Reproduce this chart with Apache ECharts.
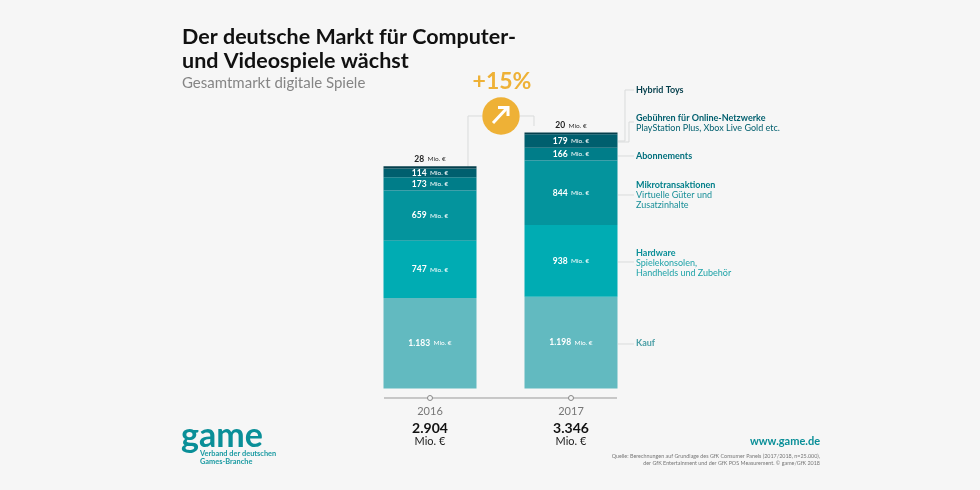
<!DOCTYPE html>
<html lang="de">
<head>
<meta charset="utf-8">
<title>Der deutsche Markt</title>
<script src="https://cdn.jsdelivr.net/npm/echarts@6/dist/echarts.min.js"></script>
<style>
  html, body { margin: 0; padding: 0; background: #f6f6f6; }
  #main { width: 980px; height: 490px; }
</style>
</head>
<body>
<div id="main"></div>
<script>
var years = ['2016', '2017'];
var kauf = [1183, 1198];
var hardware = [747, 938];
var mikro = [659, 844];
var abo = [173, 166];
var gebuehren = [114, 179];
var hybrid = [28, 20];
var totals = ['2.904', '3.346'];

var FONT = 'Lato';
var chart = echarts.init(document.getElementById('main'));

function stack(name, values, color) {
    return {
        name: name,
        type: 'bar',
        stack: 'markt',
        barWidth: 93,
        data: values,
        itemStyle: { color: color },
        label: {
            show: true,
            position: 'inside',
            formatter: function (p) { return '{v|' + p.value.toLocaleString('de-DE') + '} {u|Mio. €}'; },
            rich: {
                v: { fontFamily: FONT, fontSize: 8.5, fontWeight: 'bold', color: '#fff' },
                u: { fontFamily: FONT, fontSize: 6.5, color: '#fff' }
            }
        }
    };
}

// kleine Texte rechts und unten
function txt(x, y, text, size, color, weight, align) {
    return {
        type: 'text', x: x, y: y,
        style: {
            text: text, fill: color, align: align || 'left', verticalAlign: 'middle',
            font: (weight || 'normal') + ' ' + size + 'px ' + FONT
        }
    };
}
function conn(points, color, width) {
    return {
        type: 'polyline', shape: { points: points },
        style: { stroke: color || '#d9dbdb', lineWidth: width || 1, fill: null }
    };
}

var hybridSeries = stack('Hybrid Toys', hybrid, '#053f4c');
hybridSeries.label = {
    show: true, position: 'top', distance: 1,
    formatter: function (p) { return '{v|' + p.value + '} {u|Mio. €}'; },
    rich: {
        v: { fontFamily: FONT, fontSize: 8.5, fontWeight: 'bold', color: '#222' },
        u: { fontFamily: FONT, fontSize: 6.5, color: '#333' }
    }
};

var option = {
    backgroundColor: '#f6f6f6',
    animation: false,
    grid: { left: 359.5, width: 282, top: 120.75, height: 267.75 },
    xAxis: {
        type: 'category', data: years,
        axisLine: { show: false }, axisTick: { show: false }, axisLabel: { show: false }
    },
    yAxis: { type: 'value', min: 0, max: 3500, show: false },
    series: [
        stack('Kauf', kauf, '#62bac0'),
        stack('Hardware', hardware, '#00acb3'),
        stack('Mikrotransaktionen', mikro, '#04949d'),
        stack('Abonnements', abo, '#007d89'),
        stack('Gebühren', gebuehren, '#005f6e'),
        hybridSeries
    ],
    graphic: [
        txt(182, 37, 'Der deutsche Markt für Computer-', 21.5, '#111', 'bold'),
        txt(182, 61, 'und Videospiele wächst', 21.5, '#111', 'bold'),
        txt(182, 83, 'Gesamtmarkt digitale Spiele', 15, '#858585'),
        conn([[468, 167], [468, 116], [482, 116]]),
        conn([[520, 116], [534, 116], [534, 126]]),
        txt(502, 82, '+15%', 23, '#eeb136', 'bold', 'center'),
        { type: 'circle', shape: { cx: 501, cy: 116, r: 18.7 }, style: { fill: '#eeb136' } },
        conn([[493, 123], [507, 108]], '#fff', 3),
        conn([[498, 107.5], [508, 107.5], [508, 116]], '#fff', 3),
        conn([[618, 141], [625, 141], [625, 90], [634, 90]]),
        conn([[618, 142], [629, 142], [629, 122], [634, 122]]),
        conn([[618, 156], [634, 156]]),
        conn([[618, 195], [634, 195]]),
        conn([[618, 262], [634, 262]]),
        conn([[618, 344], [634, 344]]),
        { type: 'line', shape: { x1: 384, y1: 398, x2: 617, y2: 398 }, style: { stroke: '#999', lineWidth: 1 } },
        { type: 'circle', shape: { cx: 430, cy: 398, r: 2.5 }, style: { fill: '#f6f6f6', stroke: '#888' } },
        { type: 'circle', shape: { cx: 571, cy: 398, r: 2.5 }, style: { fill: '#f6f6f6', stroke: '#888' } },
        txt(430, 411, years[0], 11, '#777', 'normal', 'center'),
        txt(571, 411, years[1], 11, '#777', 'normal', 'center'),
        txt(430, 428, totals[0], 14, '#111', 'bold', 'center'),
        txt(571, 428, totals[1], 14, '#111', 'bold', 'center'),
        txt(430, 441, 'Mio. €', 11, '#222', 'normal', 'center'),
        txt(571, 441, 'Mio. €', 11, '#222', 'normal', 'center'),
        txt(636, 90, 'Hybrid Toys', 9, '#053f4c', 'bold'),
        txt(636, 118, 'Gebühren für Online-Netzwerke', 9, '#005f6e', 'bold'),
        txt(636, 128, 'PlayStation Plus, Xbox Live Gold etc.', 9, '#005f6e'),
        txt(636, 156, 'Abonnements', 9, '#006f7c', 'bold'),
        txt(636, 185, 'Mikrotransaktionen', 9, '#007f89', 'bold'),
        txt(636, 195, 'Virtuelle Güter und', 9, '#1a8f98'),
        txt(636, 205, 'Zusatzinhalte', 9, '#1a8f98'),
        txt(636, 253, 'Hardware', 9, '#0a8f98', 'bold'),
        txt(636, 263, 'Spielekonsolen,', 9, '#1fa3a8'),
        txt(636, 273, 'Handhelds und Zubehör', 9, '#1fa3a8'),
        txt(636, 343, 'Kauf', 9, '#4a9ea5', 'bold'),
        txt(181, 436, 'game', 34, '#0a8f98', 'bold'),
        txt(200, 454, 'Verband der deutschen', 7.4, '#1a9aa2', 'bold'),
        txt(200, 462, 'Games-Branche', 7.4, '#1a9aa2', 'bold'),
        txt(820, 441, 'www.game.de', 11, '#0a8f98', 'bold', 'right'),
        txt(820, 456, 'Quelle: Berechnungen auf Grundlage des GfK Consumer Panels (2017/2018, n=25.000),', 5.4, '#777', 'normal', 'right'),
        txt(820, 463, 'der GfK Entertainment und der GfK POS Measurement. © game/GfK 2018', 5.4, '#777', 'normal', 'right')
    ]
};
chart.setOption(option);
</script>
</body>
</html>
